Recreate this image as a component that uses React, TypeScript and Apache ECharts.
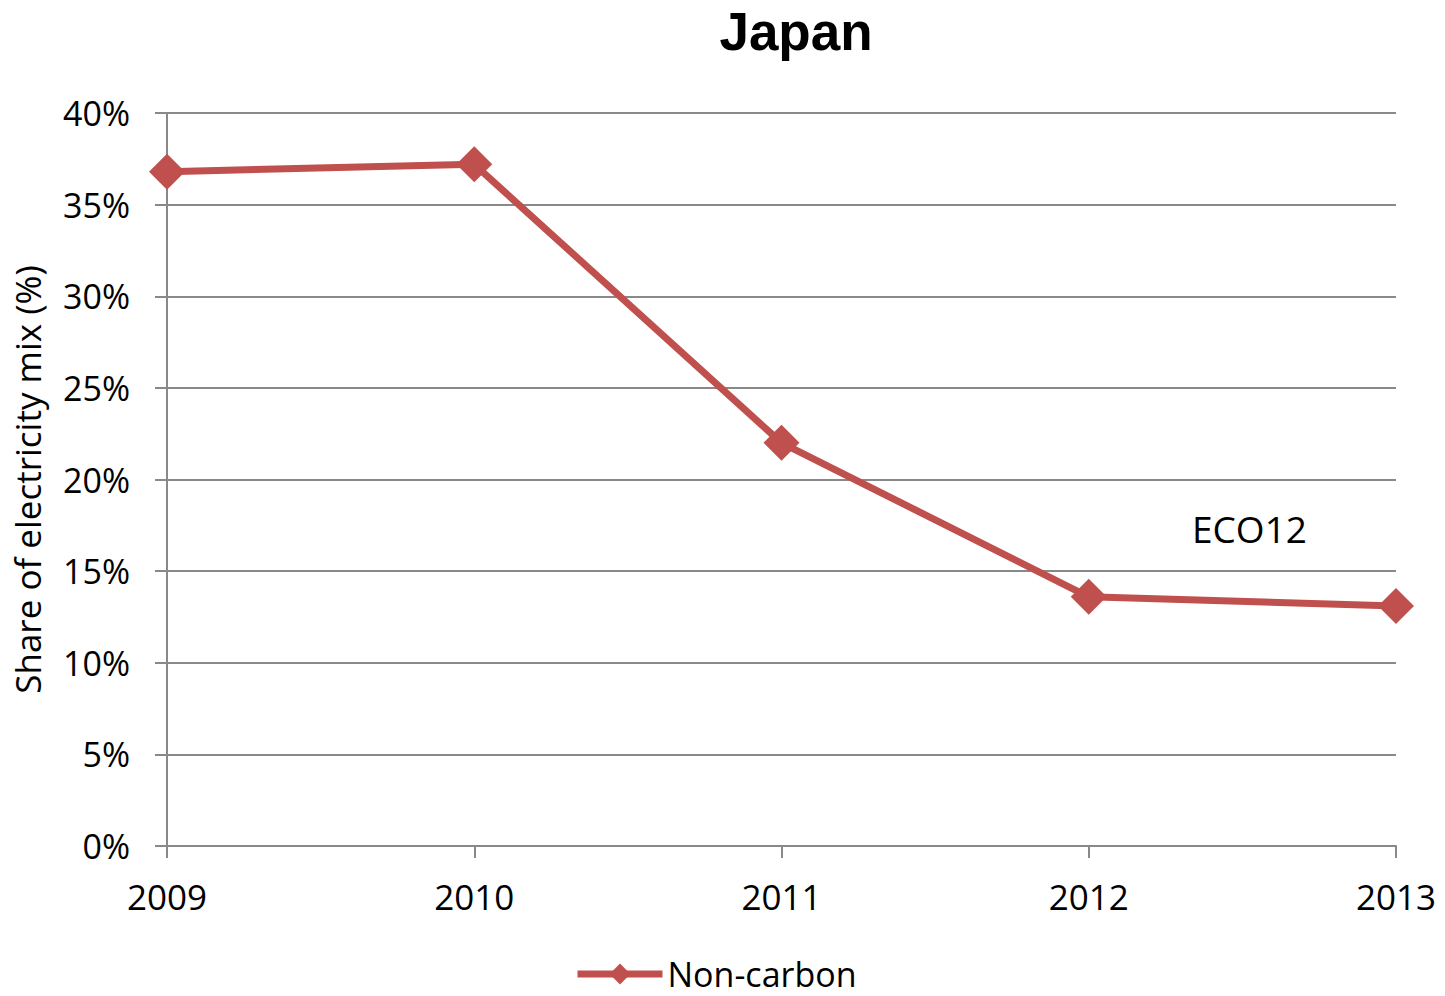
import React, { useEffect, useRef } from "react";
import * as echarts from "echarts";

const years = ["2009", "2010", "2011", "2012", "2013"];
const nonCarbon = [36.8, 37.2, 22.0, 13.6, 13.1];
const yTicks = { min: 0, max: 40, interval: 5 };
const titleText = "Japan";
const yAxisName = "Share of electricity mix (%)";
const seriesName = "Non-carbon";
const annotation = "ECO12";

export default function App() {
  const ref = useRef<HTMLDivElement>(null);
  useEffect(() => {
    if (!ref.current) return;
    const chart = echarts.init(ref.current, null, { renderer: "svg" });
    const gray = "#898989";
    const red = "#C0504D";
    const font = "'Open Sans', 'Noto Sans', sans-serif";
    chart.setOption({
      animation: false,
      backgroundColor: "#ffffff",
      title: {
        text: titleText,
        left: 791,
        textAlign: "center",
        top: 0,
        textStyle: { fontFamily: "'Liberation Sans', Arial, sans-serif", fontWeight: "bold", fontSize: 53, color: "#000" },
      },
      grid: { left: 167, right: 49, top: 113, bottom: 150, containLabel: false, outerBoundsMode: "none" },
      legend: {
        bottom: 5,
        left: 574,
        padding: 0,
        itemWidth: 85,
        itemHeight: 26,
        itemGap: 10,
        lineStyle: { width: 7, color: red },
        textStyle: { fontFamily: font, fontSize: 34, lineHeight: 34, color: "#000" },
        data: [seriesName],
      },
      xAxis: {
        type: "category",
        data: years,
        boundaryGap: false,
        axisLine: { lineStyle: { color: gray, width: 2 } },
        axisTick: { show: true, length: 12, lineStyle: { color: gray, width: 2 } },
        axisLabel: { margin: 33, fontFamily: font, fontSize: 35, color: "#000" },
        splitLine: { show: false },
      },
      yAxis: {
        type: "value",
        min: yTicks.min,
        max: yTicks.max,
        interval: yTicks.interval,
        name: yAxisName,
        nameLocation: "middle",
        nameGap: 122,
        nameTextStyle: { fontFamily: font, fontSize: 35, color: "#000" },
        axisLine: { show: true, lineStyle: { color: gray, width: 2 } },
        axisTick: { show: true, length: 12, lineStyle: { color: gray, width: 2 } },
        axisLabel: { margin: 37, fontFamily: font, fontSize: 34, color: "#000", formatter: "{value}%" },
        splitLine: { show: true, lineStyle: { color: gray, width: 2 } },
      },
      graphic: [
        {
          type: "text",
          left: 1192,
          top: 510,
          style: { text: annotation, fontFamily: font, fontSize: 37, fill: "#000" },
        },
      ],
      series: [
        {
          name: seriesName,
          type: "line",
          data: nonCarbon,
          symbol: "diamond",
          symbolSize: 36,
          lineStyle: { color: red, width: 7 },
          itemStyle: { color: red },
        },
      ],
    });
    return () => chart.dispose();
  }, []);
  return <div ref={ref} style={{ width: 1445, height: 996, position: "absolute", left: 0, top: 0 }} />;
}
